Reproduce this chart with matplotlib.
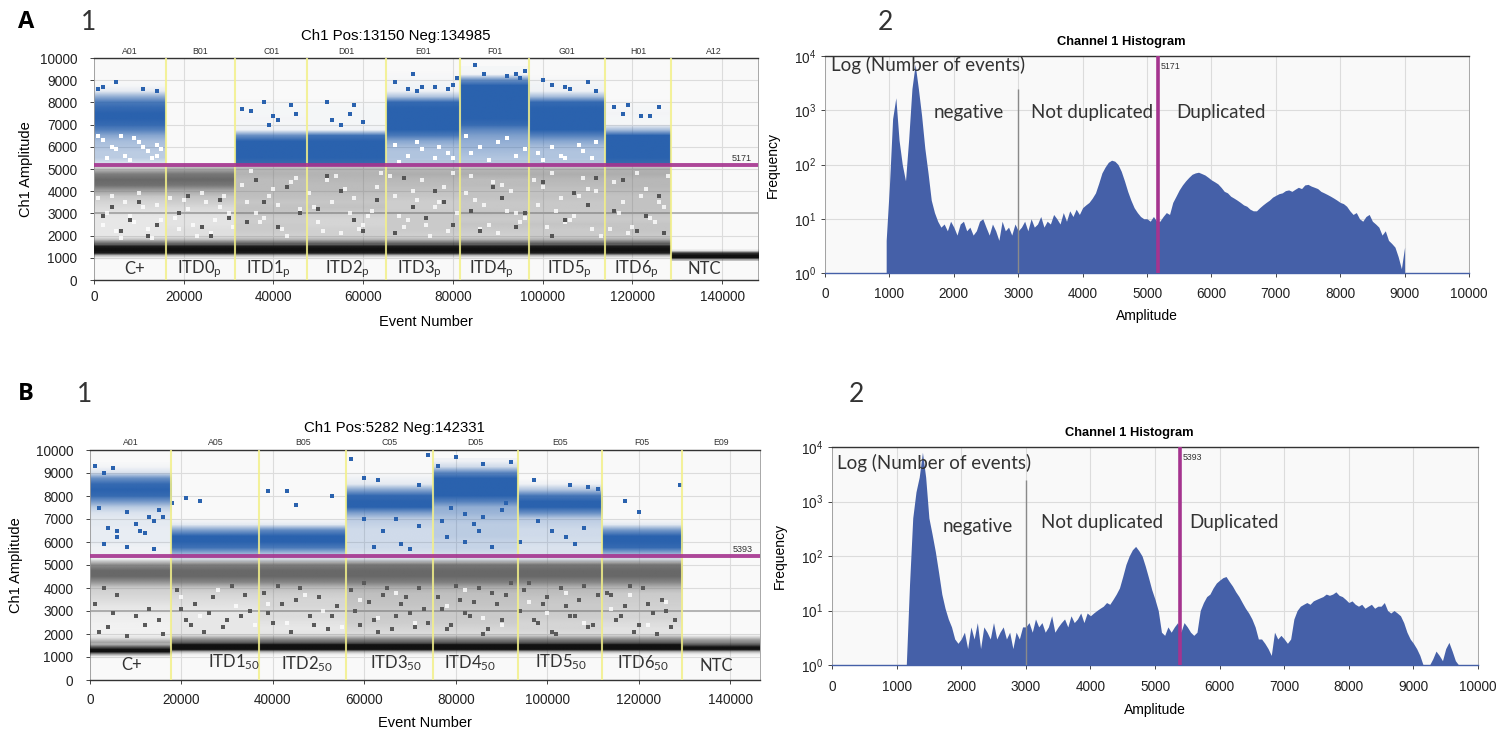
"""
Droplet amplitude plots and channel 1 histograms, panels A and B.
Dense droplet clouds are drawn as per-well density profiles, sparse droplets as dots.
"""
import matplotlib
matplotlib.use("Agg")
import matplotlib.pyplot as plt
from matplotlib.colors import to_rgb
import numpy as np

W, H = 1500, 737
BLUE = "#2A62AE"
HIST = "#4560A8"
PINK = "#A5348F"
GRAY = "#686868"
DARK = "#111111"
BG = "#F9F9F9"
TEXT = "#333333"

plt.rcParams["font.family"] = ["Liberation Sans", "DejaVu Sans"]
plt.rcParams["mathtext.default"] = "regular"

# amplitude levels of the density profiles below
blue_levels = [5250, 5500, 5750, 6000, 6250, 6500, 6750, 7000, 7250, 7500, 7750, 8000, 8250, 8500, 8750, 9000, 9250, 9500]
gray_levels = [1750, 2000, 2250, 2500, 2750, 3000, 3250, 3500, 3750, 4000, 4250, 4500, 4750, 5000, 5250]
neg_levels = [900, 1000, 1100, 1200, 1300, 1400, 1500, 1600, 1700, 1800, 1900]

# ----- panel A1 -----
a_edges = [0, 16000, 31500, 47500, 65000, 81500, 97000, 114000, 128500, 148000]
a_wells = ["A01", "B01", "C01", "D01", "E01", "F01", "G01", "H01", "A12"]
a_names = ["C+", "ITD0$_p$", "ITD1$_p$", "ITD2$_p$", "ITD3$_p$", "ITD4$_p$", "ITD5$_p$", "ITD6$_p$", "NTC"]
a_name_x = [9000, 23500, 39000, 56500, 72500, 88500, 106000, 121000, 136000]
a_blue = [
    [.15, .3, .3, .35, .4, .55, .8, .95, 1, 1, .95, .85, .5, .1, .02, 0, 0, 0],
    [0] * 18,
    [.95, 1, 1, 1, 1, .7, .05, .02, .03, .02, .02, .01, 0, 0, 0, 0, 0, 0],
    [.95, 1, 1, 1, 1, .9, .05, .02, .02, .02, .02, .01, 0, 0, 0, 0, 0, 0],
    [.3, .35, .35, .4, .55, .85, 1, 1, 1, 1, 1, .95, .35, .05, .04, .02, .01, 0],
    [.3, .35, .4, .45, .5, .6, .75, .95, 1, 1, 1, 1, 1, 1, 1, .7, .03, .02],
    [.3, .35, .35, .4, .55, .8, 1, 1, 1, 1, 1, .95, .4, .05, .04, .02, 0, 0],
    [.95, 1, 1, 1, 1, 1, .4, .02, .02, .03, .02, .01, 0, 0, 0, 0, 0, 0],
    [0] * 18,
]
a_gray = [
    [.3, .12, .12, .12, .12, .15, .2, .25, .35, .6, .95, 1, .85, .35, 0],
    [.3, .18, .18, .15, .15, .18, .22, .3, .38, .55, .9, 1, .9, .5, 0],
    [.4, .28, .32, .32, .3, .36, .38, .35, .4, .42, .42, .42, .48, .45, .05],
    [.4, .28, .28, .25, .25, .3, .38, .35, .38, .42, .42, .45, .48, .45, .05],
    [.36, .28, .32, .32, .32, .32, .3, .3, .35, .38, .42, .45, .52, .45, .05],
    [.4, .28, .32, .36, .32, .36, .34, .34, .38, .38, .42, .42, .52, .45, .05],
    [.4, .32, .32, .36, .32, .32, .34, .34, .38, .38, .42, .45, .52, .45, .05],
    [.45, .32, .36, .36, .32, .36, .38, .38, .38, .42, .45, .45, .52, .48, .05],
    [0] * 15,
]
a_neg = [0, .05, .3, .95, 1, 1, .95, .6, .35, .1, 0]
a_ntc = [.25, 1, 1, .85, .1, 0, 0, 0, 0, 0, 0]
a_blue_x = [1, 2, 5, 11, 14, 33, 35, 39, 38, 44, 40, 41, 52, 53, 57, 55, 58, 67, 70, 71, 72, 73, 79, 80, 81,
            85, 87, 92, 94, 96, 95, 102, 105, 106, 110, 112, 116, 118, 119, 122, 124, 126, 45, 60, 76, 100]
a_blue_y = [8600, 8700, 8900, 8600, 8500, 7700, 7600, 7000, 8000, 7900, 7400, 7200, 8000, 7200, 7500, 7000, 7900,
            8900, 8600, 9300, 8500, 8700, 8600, 8800, 9100, 9700, 9300, 9200, 9300, 9400, 9100, 8800, 8700, 8600,
            8900, 8500, 7800, 7500, 7900, 7400, 7400, 7800, 7500, 7100, 8700, 9000]
a_pale_x = [2, 4, 7, 9, 12, 14, 3, 6, 10, 13, 15, 1, 5, 8, 11, 14, 67, 70, 73, 76, 79, 68, 72, 77, 80, 83, 86, 90,
            94, 84, 88, 92, 96, 99, 102, 105, 109, 112, 100, 104, 108, 111]
a_pale_y = [6300, 6000, 5600, 6400, 5800, 6100, 5500, 6500, 6200, 5500, 5900, 6500, 5900, 5400, 6000, 5600, 6100,
            5600, 5900, 5500, 5700, 5300, 6200, 6000, 5500, 6500, 6000, 6200, 5600, 5700, 5400, 6400, 5900, 5700,
            6000, 5500, 5800, 6200, 5400, 5600, 6100, 5500]
a_hole_x = [1, 3, 5, 7, 9, 11, 13, 15, 2, 4, 6, 8, 10, 12, 14, 17, 19, 21, 23, 25, 27, 29, 31, 18, 20, 22, 24, 26,
            28, 30, 33, 36, 39, 42, 45, 34, 37, 40, 43, 46, 35, 38, 41, 44, 48, 51, 54, 57, 60, 63, 49, 52, 55, 58,
            61, 64, 50, 53, 56, 59, 62, 66, 69, 72, 75, 78, 81, 67, 70, 73, 76, 79, 68, 71, 74, 77, 80, 83, 86, 89,
            92, 95, 84, 87, 90, 93, 96, 85, 88, 91, 94, 98, 101, 104, 107, 110, 113, 99, 102, 105, 108, 111, 100,
            103, 106, 109, 112, 115, 118, 121, 124, 127, 116, 119, 122, 125, 128, 117, 120, 123, 126]
a_hole_y = [3700, 3000, 2200, 3500, 2600, 3300, 1900, 2700, 2500, 3800, 1900, 2900, 3900, 2300, 3400, 3700, 2300,
            3200, 2000, 3500, 2700, 3800, 2400, 2800, 3600, 2500, 3900, 2100, 3300, 3000, 4300, 3000, 3800, 2300,
            4600, 3500, 2600, 4100, 2000, 3200, 4900, 2800, 3400, 4400, 3900, 2200, 4700, 3000, 2500, 4200, 3300,
            4500, 2100, 3700, 2900, 4800, 2600, 3500, 4100, 2300, 3100, 4700, 2400, 3600, 2000, 4200, 3000, 3800,
            2700, 4500, 3300, 2200, 2900, 4000, 2500, 3500, 4800, 3900, 2300, 4400, 3100, 2600, 4700, 3400, 2100,
            4000, 2800, 3600, 2500, 4300, 3000, 4500, 2400, 3700, 2900, 4100, 2000, 3400, 4800, 2600, 3800, 2300,
            4200, 3100, 2700, 4600, 4000, 2300, 3500, 4800, 2800, 3300, 4400, 2100, 3800, 2600, 4700, 3000, 2400,
            4100, 3500]
a_dark_x = [2, 6, 10, 14, 4, 8, 12, 19, 24, 28, 21, 26, 30, 34, 38, 43, 36, 41, 46, 50, 55, 60, 52, 58, 63, 67, 71,
            76, 80, 69, 74, 78, 84, 89, 94, 86, 91, 96, 100, 105, 110, 102, 107, 112, 116, 121, 126, 118, 123, 127]
a_dark_y = [2900, 2200, 3500, 2500, 3300, 2700, 2000, 3000, 2400, 3600, 3800, 2000, 2800, 2600, 3500, 4200, 4500,
            2400, 3000, 3200, 4000, 2200, 4700, 2700, 3600, 2100, 3300, 4000, 2500, 4600, 2800, 3500, 3100, 4200,
            2400, 2200, 3700, 3000, 4400, 2700, 3400, 2000, 3900, 4600, 3100, 2200, 3800, 4500, 2900, 2100]

# ----- panel B1 -----
b_edges = [0, 17800, 37000, 56000, 75000, 93500, 112000, 129500, 146500]
b_wells = ["A01", "A05", "B05", "C05", "D05", "E05", "F05", "E09"]
b_names = ["C+", "ITD1$_{50}$", "ITD2$_{50}$", "ITD3$_{50}$", "ITD4$_{50}$", "ITD5$_{50}$", "ITD6$_{50}$", "NTC"]
b_name_x = [9000, 31500, 47500, 67000, 83000, 103000, 121000, 137000]
b_name_y = [650, 780, 680, 730, 730, 760, 720, 600]
b_blue = [
    [.02, .05, .05, .08, .08, .08, .1, .1, .15, .3, .65, .95, 1, .95, .7, .15, .03, 0],
    [.1, .5, .9, 1, 1, .6, .1, 0, 0, 0, 0, 0, 0, 0, 0, 0, 0, 0],
    [.1, .4, .85, 1, 1, .75, .1, 0, 0, 0, 0, 0, 0, 0, 0, 0, 0, 0],
    [.1, .15, .2, .2, .2, .2, .25, .3, .6, 1, 1, .95, .55, .1, .05, 0, 0, 0],
    [.1, .2, .25, .25, .3, .3, .3, .35, .45, .5, .8, 1, 1, 1, 1, .75, .2, .05],
    [.1, .15, .15, .18, .2, .2, .25, .3, .7, 1, 1, .85, .35, .05, 0, 0, 0, 0],
    [.1, .5, .95, 1, 1, .65, .1, 0, 0, 0, 0, 0, 0, 0, 0, 0, 0, 0],
    [0] * 18,
]
b_gray = [
    [.15, .06, .05, .06, .08, .1, .14, .2, .25, .3, .7, 1, 1, .75, .05],
    [.2, .12, .12, .12, .12, .12, .16, .2, .25, .35, .8, 1, 1, .85, .1],
    [.22, .15, .12, .15, .2, .2, .24, .25, .3, .4, .8, 1, 1, .85, .1],
    [.3, .2, .25, .3, .32, .32, .36, .38, .4, .5, .85, 1, 1, .9, .1],
    [.3, .2, .25, .3, .32, .32, .36, .38, .4, .5, .85, 1, 1, .9, .1],
    [.3, .2, .25, .25, .3, .32, .32, .35, .4, .45, .8, 1, 1, .9, .1],
    [.25, .16, .16, .2, .25, .25, .28, .3, .32, .45, .8, 1, 1, .9, .1],
    [0] * 15,
]
b_neg_cp = [0, .05, .4, 1, 1, .7, .35, .3, .15, .03, 0]
b_neg = [0, 0, .05, .3, 1, 1, 1, .6, .45, .25, .05]
b_neg_ntc = [0, 0, .05, .3, 1, 1, .7, .5, .4, .2, .02]
b_blue_x = [1, 3, 5, 2, 4, 8, 10, 13, 6, 15, 12, 14, 21, 24, 39, 43, 45, 53, 57, 60, 63, 72, 76, 80, 82, 86, 92,
            97, 105, 109, 111, 117, 120, 129, 74, 8, 3, 11, 16, 6, 14, 18, 64, 68, 72, 60, 78, 84, 88, 90, 79, 82,
            86, 98, 104, 108, 94, 62, 67, 70, 77, 85, 91, 101, 106]
b_blue_y = [9300, 9000, 9200, 7500, 6600, 7300, 6800, 7100, 6200, 7400, 6400, 6900, 7900, 7800, 8200, 8200, 7600,
            8000, 9600, 8800, 8700, 8500, 9300, 9700, 7200, 9400, 9500, 8700, 8500, 8400, 8300, 7800, 7300, 8500,
            9800, 5800, 5900, 6500, 7100, 6500, 5700, 7700, 6500, 5900, 6700, 7000, 6200, 6800, 5800, 7400, 7500,
            6000, 7100, 6900, 6200, 6600, 6000, 5800, 7000, 5700, 6900, 6500, 7700, 6500, 5900]
b_speck_x = [1, 2, 3, 5, 6, 8, 10, 12, 13, 15, 16, 4, 19, 21, 23, 25, 27, 29, 31, 33, 35, 20, 22, 26, 30, 34, 38,
             40, 42, 44, 46, 48, 50, 52, 54, 39, 41, 45, 49, 53, 57, 59, 61, 63, 65, 67, 69, 71, 73, 58, 60, 62,
             64, 66, 68, 70, 72, 74, 76, 78, 80, 82, 84, 86, 88, 90, 92, 77, 79, 81, 83, 85, 87, 89, 91, 95, 97,
             99, 101, 103, 105, 107, 109, 111, 94, 96, 98, 100, 102, 104, 106, 108, 110, 113, 115, 117, 119, 121,
             123, 125, 127, 114, 116, 118, 120, 122, 124, 126, 128]
b_speck_y = [3300, 2100, 4000, 2900, 3700, 1900, 2800, 2400, 3100, 2600, 2000, 2300, 3900, 2600, 3300, 2100, 3600,
             2300, 4100, 2800, 3000, 3100, 2400, 2900, 2600, 3700, 3800, 2500, 3300, 2100, 4000, 2800, 3600, 2200,
             3200, 2900, 4100, 3500, 2400, 2800, 3900, 2400, 3400, 2100, 4000, 2800, 3600, 2300, 3100, 3000, 4200,
             2600, 3700, 2200, 3300, 2900, 4000, 2500, 3600, 2200, 4100, 2900, 3400, 2000, 3800, 2600, 4200, 3100,
             2400, 3500, 2800, 4000, 2200, 3300, 3700, 3900, 2600, 3300, 2100, 4000, 2800, 3500, 2300, 3700, 3000,
             4200, 2500, 3600, 2000, 3200, 2800, 4100, 2400, 3800, 2600, 3200, 2100, 4000, 2900, 3500, 2300, 3700,
             2800, 4100, 2400, 3300, 2000, 3000, 2600]
b_hole_x = [20, 24, 28, 32, 36, 39, 43, 47, 51, 55, 59, 63, 67, 71, 78, 82, 86, 90, 96, 100, 104, 108, 114, 118, 122, 126]
b_hole_y = [3600, 2800, 3900, 3200, 2400, 3300, 2500, 3700, 3000, 2300, 3500, 2700, 3800, 2500, 3200, 3900, 2700,
            2400, 3400, 2900, 3800, 2500, 3100, 3700, 2400, 3400]

# ----- histograms: frequency every 50 amplitude units -----
hist_a = [4, 40, 700, 1700, 280, 100, 50, 300, 2500, 7000, 2500, 800, 200, 70, 22, 13, 9, 7,
          8, 6, 9, 7, 5, 8, 9, 6, 7, 5, 6, 9, 10, 7, 5, 8, 6, 4, 9, 6, 7, 5, 8, 6,
          7, 9, 6, 10, 7, 8, 11, 7, 9, 8, 12, 10, 8, 13, 9, 14, 11, 15, 12,
          16, 18, 20, 24, 30, 45, 70, 90, 110, 120, 115, 100, 75, 50, 32, 22, 16, 13, 11, 10,
          10, 9, 11, 9, 9, 11, 13, 12, 20, 26, 34, 42, 50, 58, 66, 70, 72, 68, 64, 58,
          52, 48, 44, 38, 32, 30, 26, 24, 22, 20, 18, 17, 15, 14, 14, 16, 18, 20, 22, 25,
          27, 29, 30, 33, 34, 32, 35, 38, 36, 42, 43, 40, 38, 36, 32, 30, 28, 26, 24, 22,
          20, 19, 17, 14, 12, 13, 10, 9, 11, 12, 9, 8, 7, 5, 6, 4, 3.5, 3, 2, 1.2, 3]
hist_b = [1, 30, 500, 1500, 2800, 8000, 2800, 500, 250, 120, 50, 20, 11, 7, 5, 3, 2.5,
          3, 4, 2, 5, 3, 6, 2, 5, 4, 3, 6, 3, 4, 5, 3, 4, 2, 4, 3, 5, 5,
          6, 4, 7, 5, 6, 4, 5, 8, 4, 5, 6, 7, 5, 8, 6, 7, 9, 6, 9,
          8, 9, 10, 11, 12, 14, 13, 16, 20, 26, 42, 70, 100, 130, 150, 125, 100, 65, 40, 24,
          16, 10, 4, 3.5, 5, 4, 5, 6, 4, 6, 5, 4, 3.5, 4, 10, 14, 18, 20, 26, 32,
          36, 40, 42, 34, 28, 22, 18, 14, 11, 9, 7, 5, 3, 3, 2.5, 2, 1.5, 4, 3, 3.5,
          3, 2.5, 3, 7, 10, 12, 13, 14, 13, 15, 16, 17, 18, 20, 19, 20, 22, 19, 18, 16,
          14, 15, 13, 12, 13, 11, 12, 13, 11, 12, 12, 14, 10, 9, 10, 9, 8, 6, 4, 3,
          2.5, 2, 1.5, 1, 1, 1, 1.3, 1.8, 1.5, 1.2, 2, 2.6, 1.8, 1.2, 1]
hist_a_start, hist_b_start = 950, 1150
log_ticks = [1, 10, 100, 1000, 10000]
log_labels = ["10$^0$", "10$^1$", "10$^2$", "10$^3$", "10$^4$"]


def place_axes(fig, left, right, top, bottom):
    return fig.add_axes([left / W, 1 - bottom / H, (right - left) / W, (bottom - top) / H])


def style_axes(ax):
    ax.set_facecolor(BG)
    for side in ("left", "right"):
        ax.spines[side].set_color("#9A9A9A")
        ax.spines[side].set_linewidth(0.6)
    for side in ("top", "bottom"):
        ax.spines[side].set_color("#333333")
        ax.spines[side].set_linewidth(1.0)
    ax.grid(color="#DCDCDC", linewidth=0.8)
    ax.set_axisbelow(True)
    ax.tick_params(labelsize=9.8, length=3, width=0.7, color="#444444", labelcolor="#222222")


def draw_droplets(ax, edges, wells, thresh, title, xpad, label_pad, ylabel_pad):
    style_axes(ax)
    ax.set_xlim(0, edges[-1])
    ax.set_ylim(0, 10000)
    ax.set_autoscale_on(False)
    ax.set_yticks(range(0, 10001, 1000))
    ax.set_xticks(range(0, 140001, 20000))
    ax.tick_params(axis="y", pad=9)
    ax.tick_params(axis="x", pad=xpad)
    ax.axhline(3000, color="#B4B4B4", linewidth=1.4, zorder=1)
    ax.set_xlabel("Event Number", fontsize=10.5, labelpad=label_pad)
    ax.set_ylabel("Ch1 Amplitude", fontsize=10.5, labelpad=ylabel_pad)
    ax.set_title(title, fontsize=10.8, x=0.455, pad=13)
    for left, right, name in zip(edges[:-1], edges[1:], wells):
        ax.text((left + right) / 2, 10110, name, fontsize=6.3, ha="center", va="bottom", color=TEXT)
    for x in edges[1:-1]:
        ax.axvline(x, color="#F3F08A", linewidth=1.5, alpha=0.85, zorder=5)
    ax.axhline(thresh, color=PINK, linewidth=2.8, alpha=0.9, zorder=6)
    ax.text(edges[-1] - 1500, thresh + 90, str(thresh), fontsize=6.5, ha="right", va="bottom", color=TEXT, zorder=7)


def cloud(ax, left, right, levels, density, color, z=2):
    # vertical density of one well, blurred between the amplitude levels
    rgba = np.zeros((len(levels), 1, 4))
    rgba[..., :3] = to_rgb(color)
    rgba[:, 0, 3] = density
    half = (levels[1] - levels[0]) / 2
    ax.imshow(rgba, extent=(left, right, levels[0] - half, levels[-1] + half), origin="lower",
              aspect="auto", interpolation="bilinear", zorder=z)


def draw_hist(ax, start, values, thresh, title, tick_pad):
    style_axes(ax)
    bins = np.arange(start, start + 50 * len(values), 50)
    ax.fill_between(bins, 1, values, color=HIST, linewidth=0, zorder=3)
    ax.set_xlim(0, 10000)
    ax.set_yscale("log")
    ax.set_ylim(1, 10000)
    ax.set_yticks(log_ticks, log_labels)
    ax.minorticks_off()
    ax.set_xticks(range(0, 10001, 1000))
    ax.tick_params(axis="x", pad=tick_pad)
    ax.spines["bottom"].set_color(HIST)
    ax.vlines(3000, 1, 2500, color="#8A8A8A", linewidth=1.0, zorder=4)
    ax.axvline(thresh, color=PINK, linewidth=2.6, zorder=5)
    ax.text(thresh + 40, 6500, str(thresh), fontsize=6.3, va="center", color=TEXT)
    ax.set_xlabel("Amplitude", fontsize=10, labelpad=6)
    ax.set_ylabel("Frequency", fontsize=10, labelpad=10)
    ax.set_title(title, fontsize=9.3, fontweight="bold", x=0.46, pad=8)


def note(ax, x, y, label):
    ax.text(x, y, label, fontsize=13.5, family="Lato", va="center", color=TEXT, zorder=8)


fig = plt.figure(figsize=(W / 100, H / 100), dpi=100, facecolor="white")

# ----- A1 -----
ax = place_axes(fig, 94, 758, 58, 280)
draw_droplets(ax, a_edges, a_wells, 5171, "Ch1 Pos:13150 Neg:134985", 4, 8, 5)
for i in range(len(a_wells)):
    left, right = a_edges[i], a_edges[i + 1]
    cloud(ax, left, right, blue_levels, a_blue[i], BLUE)
    cloud(ax, left, right, gray_levels, a_gray[i], GRAY)
    cloud(ax, left, right, neg_levels, a_ntc if i == 8 else a_neg, DARK, 3)
ax.scatter(np.array(a_blue_x) * 1000, a_blue_y, s=5, marker="s", color=BLUE, linewidth=0, zorder=4)
ax.scatter(np.array(a_pale_x) * 1000, a_pale_y, s=5, marker="s", color="white", linewidth=0, zorder=4)
ax.scatter(np.array(a_hole_x) * 1000, a_hole_y, s=5, marker="s", color="white", alpha=0.8, linewidth=0, zorder=3)
ax.scatter(np.array(a_dark_x) * 1000, a_dark_y, s=5, marker="s", color="#555555", linewidth=0, zorder=3)
for x, name in zip(a_name_x, a_names):
    ax.text(x, 480, name, fontsize=12, family="Lato", ha="center", va="center", color=TEXT, zorder=8)

# ----- B1 -----
ax = place_axes(fig, 90, 760, 450, 680)
draw_droplets(ax, b_edges, b_wells, 5393, "Ch1 Pos:5282 Neg:142331", 6, 7, 9)
for i in range(len(b_wells)):
    left, right = b_edges[i], b_edges[i + 1]
    cloud(ax, left, right, blue_levels, b_blue[i], BLUE)
    cloud(ax, left, right, gray_levels, b_gray[i], GRAY)
    neg = b_neg_cp if i == 0 else b_neg_ntc if i == 7 else b_neg
    cloud(ax, left, right, neg_levels, neg, DARK, 3)
ax.scatter(np.array(b_blue_x) * 1000, b_blue_y, s=5, marker="s", color=BLUE, linewidth=0, zorder=4)
ax.scatter(np.array(b_speck_x) * 1000, b_speck_y, s=5, marker="s", color="#5A5A5A", linewidth=0, zorder=3)
ax.scatter(np.array(b_hole_x) * 1000, b_hole_y, s=5, marker="s", color="white", alpha=0.8, linewidth=0, zorder=3)
for x, y, name in zip(b_name_x, b_name_y, b_names):
    ax.text(x, y, name, fontsize=12, family="Lato", ha="center", va="center", color=TEXT, zorder=8)

# ----- A2 -----
ax = place_axes(fig, 825, 1469, 56, 273)
draw_hist(ax, hist_a_start, hist_a, 5171, "Channel 1 Histogram", 7)
note(ax, 90, 6800, "Log (Number of events)")
note(ax, 1680, 890, "negative")
note(ax, 3200, 890, "Not duplicated")
note(ax, 5450, 920, "Duplicated")

# ----- B2 -----
ax = place_axes(fig, 832, 1478, 447, 665)
draw_hist(ax, hist_b_start, hist_b, 5393, "Channel 1 Histogram", 8)
note(ax, 80, 5100, "Log (Number of events)")
note(ax, 1720, 355, "negative")
note(ax, 3230, 420, "Not duplicated")
note(ax, 5526, 420, "Duplicated")

# ----- panel letters -----
fig.text(18 / W, 1 - 22 / H, "A", fontsize=17, fontweight="bold", va="center", family="Open Sans")
fig.text(18 / W, 1 - 394 / H, "B", fontsize=17, fontweight="bold", va="center", family="Open Sans")
for x, y, label in [(89, 22, "1"), (885, 22, "2"), (85, 394, "1"), (856, 394, "2")]:
    fig.text(x / W, 1 - y / H, label, fontsize=19, family="Lato", ha="center", va="center", color=TEXT)

fig.savefig("out.png", dpi=100)
